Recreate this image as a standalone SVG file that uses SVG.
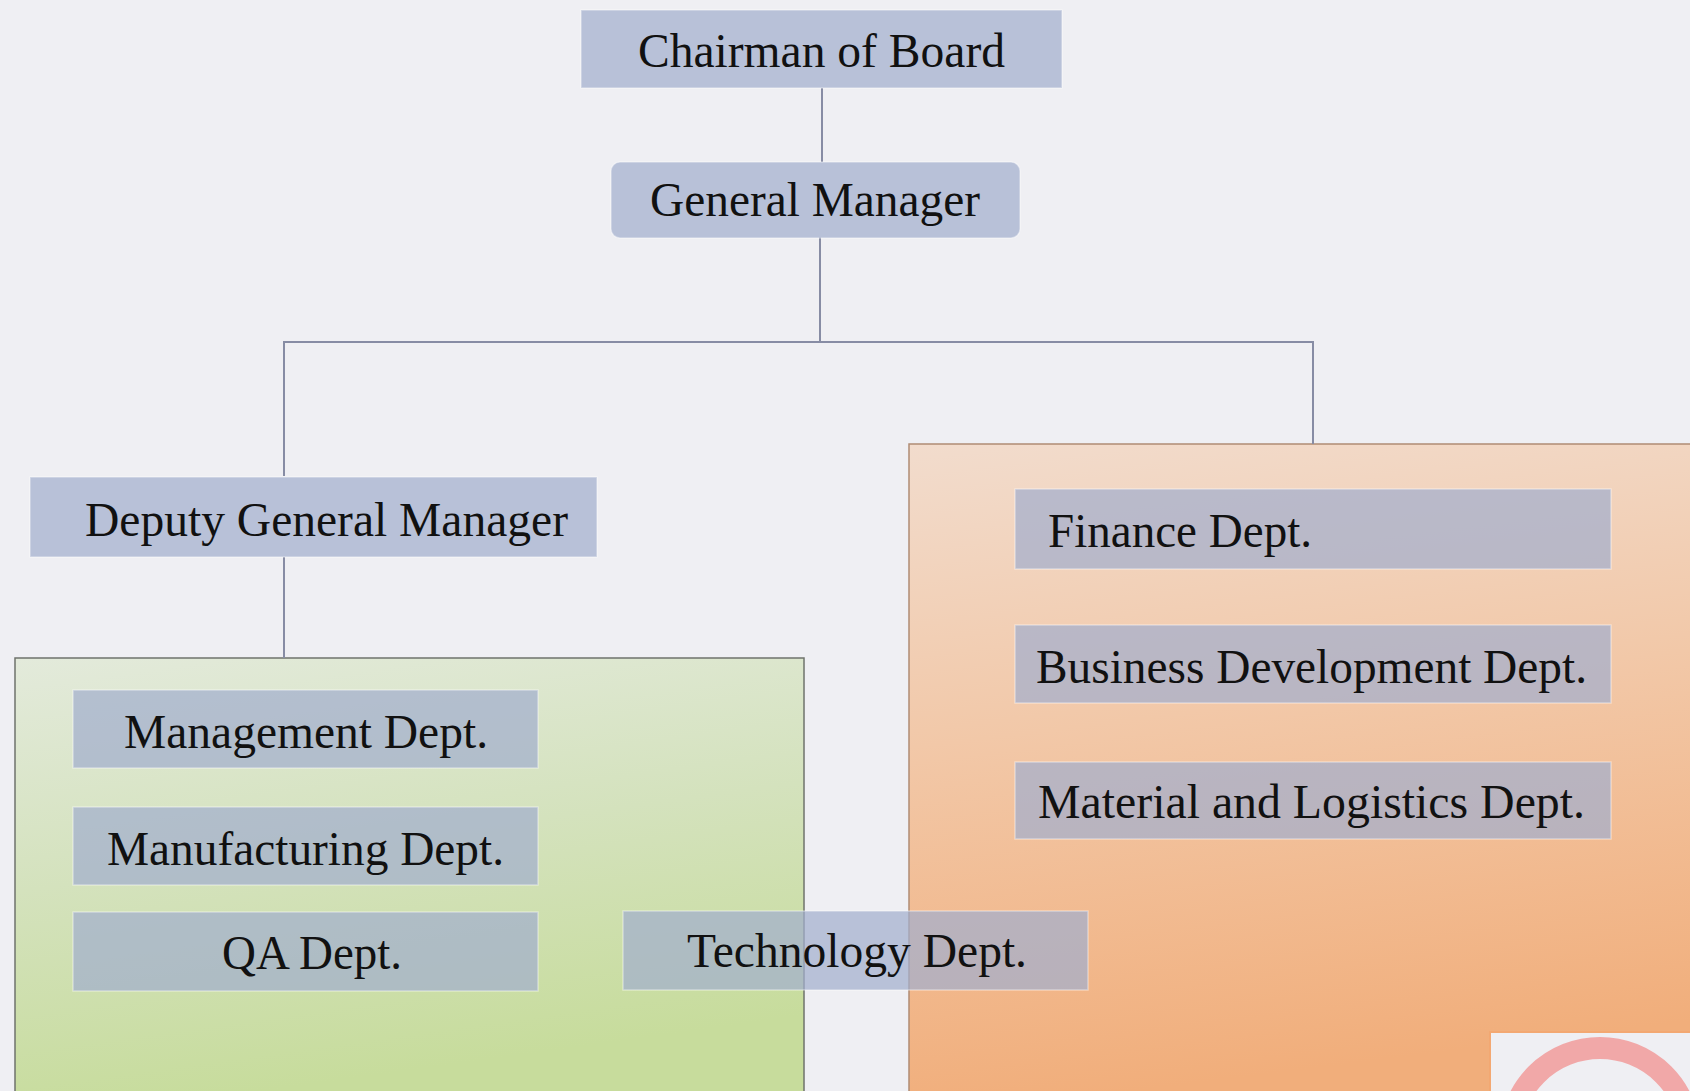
<svg xmlns="http://www.w3.org/2000/svg" width="1690" height="1091" viewBox="0 0 1690 1091">
<defs>
<linearGradient id="gGreen" x1="0" y1="0" x2="0.25" y2="1">
<stop offset="0" stop-color="#e3eadb"/>
<stop offset="0.5" stop-color="#d4e2bd"/>
<stop offset="1" stop-color="#c7dc9c"/>
</linearGradient>
<linearGradient id="gOrange" x1="0" y1="0" x2="0.15" y2="1">
<stop offset="0" stop-color="#f2dccd"/>
<stop offset="0.45" stop-color="#f2c8a8"/>
<stop offset="1" stop-color="#f1ae7b"/>
</linearGradient>
<style>
.box{fill:rgba(162,175,205,0.72);stroke:rgba(255,255,255,0.4);stroke-width:1.5}
.lbl{font-family:"Liberation Serif","Times New Roman",serif;font-size:48px;fill:#111111}
.conn{stroke:#878ca4;stroke-width:2;fill:none}
</style>
</defs>
<rect x="0" y="0" width="1690" height="1091" fill="#efeff3"/>

<g id="group-green">
<rect x="15" y="658" width="789" height="440" fill="url(#gGreen)" stroke="#6f736c" stroke-width="1.5"/>
</g>
<g id="group-orange">
<rect x="909" y="444" width="790" height="660" fill="url(#gOrange)" stroke="#b08c74" stroke-width="1.5"/>
<rect x="1490" y="1032" width="210" height="70" fill="#efeff3" stroke="#f3a872" stroke-width="2"/>
<circle cx="1600" cy="1138" r="90" fill="none" stroke="#f1a8a8" stroke-width="22"/>
</g>

<g id="connectors">
<line class="conn" x1="822" y1="88" x2="822" y2="162"/>
<line class="conn" x1="820" y1="237" x2="820" y2="342"/>
<polyline class="conn" points="284,476 284,342 1313,342 1313,444"/>
<line class="conn" x1="284" y1="557" x2="284" y2="658"/>
</g>

<g id="node-chairman">
<rect class="box" x="581" y="10" width="481" height="78"/>
<text class="lbl" x="638" y="67" textLength="367" lengthAdjust="spacingAndGlyphs">Chairman of Board</text>
</g>
<g id="node-gm">
<rect class="box" x="611" y="162" width="409" height="76" rx="9"/>
<text class="lbl" x="650" y="216" textLength="330" lengthAdjust="spacingAndGlyphs">General Manager</text>
</g>
<g id="node-dgm">
<rect class="box" x="30" y="477" width="567" height="80"/>
<text class="lbl" x="85" y="536" textLength="483" lengthAdjust="spacingAndGlyphs">Deputy General Manager</text>
</g>
<g id="node-management">
<rect class="box" x="73" y="690" width="465" height="78"/>
<text class="lbl" x="124" y="748" textLength="364" lengthAdjust="spacingAndGlyphs">Management Dept.</text>
</g>
<g id="node-manufacturing">
<rect class="box" x="73" y="807" width="465" height="78"/>
<text class="lbl" x="107" y="865" textLength="397" lengthAdjust="spacingAndGlyphs">Manufacturing Dept.</text>
</g>
<g id="node-qa">
<rect class="box" x="73" y="912" width="465" height="79"/>
<text class="lbl" x="222" y="969" textLength="180" lengthAdjust="spacingAndGlyphs">QA Dept.</text>
</g>
<g id="node-technology">
<rect class="box" x="623" y="911" width="465" height="79"/>
<text class="lbl" x="687" y="967" textLength="340" lengthAdjust="spacingAndGlyphs">Technology Dept.</text>
</g>
<g id="node-finance">
<rect class="box" x="1015" y="489" width="596" height="80"/>
<text class="lbl" x="1048" y="547" textLength="264" lengthAdjust="spacingAndGlyphs">Finance Dept.</text>
</g>
<g id="node-business">
<rect class="box" x="1015" y="625" width="596" height="78"/>
<text class="lbl" x="1036" y="683" textLength="551" lengthAdjust="spacingAndGlyphs">Business Development Dept.</text>
</g>
<g id="node-material">
<rect class="box" x="1015" y="762" width="596" height="77"/>
<text class="lbl" x="1038" y="818" textLength="547" lengthAdjust="spacingAndGlyphs">Material and Logistics Dept.</text>
</g>
</svg>
